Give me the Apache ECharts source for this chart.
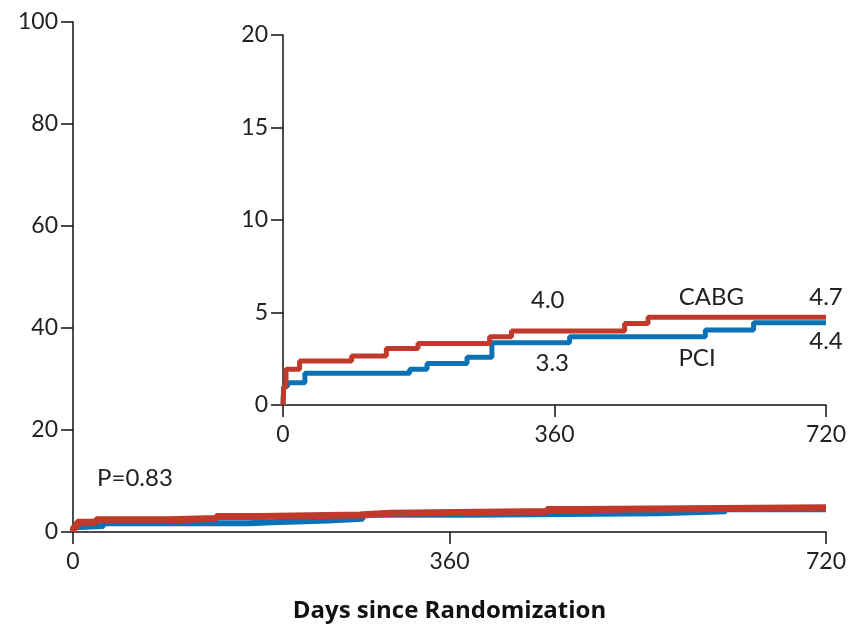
<!DOCTYPE html>
<html><head><meta charset="utf-8">
<script src="https://cdn.jsdelivr.net/npm/echarts@6/dist/echarts.min.js"></script>
<style>html,body{margin:0;padding:0;background:#fff}#c{width:861px;height:624px}</style>
</head><body><div id="c"></div>
<script>
// Data (days since randomization, cumulative %)
const cabgDays = [0, 1, 4, 22, 91, 137, 179, 274, 303, 453, 484, 720];
const cabgVals = [0, 1.0, 1.93, 2.38, 2.65, 3.06, 3.33, 3.69, 4.0, 4.41, 4.74, 4.74];
const pciDays  = [0, 1, 6, 29, 168, 191, 244, 277, 380, 560, 624, 720];
const pciVals  = [0, 1.0, 1.2, 1.71, 1.93, 2.25, 2.58, 3.37, 3.69, 4.05, 4.45, 4.45];
const mainYTicks = [0, 20, 40, 60, 80, 100];
const insetYTicks = [0, 5, 10, 15, 20];
const xTicks = [0, 360, 720];
const xTitle = 'Days since Randomization';
// annotations: [text, day, value, align, grid]
const notes = [
  ['P=0.83', 23, 10.6, 'left', 0],
  ['4.0', 351, 5.68, 'center', 1],
  ['3.3', 357, 2.27, 'center', 1],
  ['CABG', 568, 5.84, 'center', 1],
  ['PCI', 549, 2.54, 'center', 1],
  ['4.7', 720, 5.84, 'center', 1],
  ['4.4', 720, 3.46, 'center', 1]
];

const RED = '#C0392B', BLUE = '#0B72B5';
const FONT = 'Lato';
const FS = 23;
const pairs = (d, v) => d.map((x, i) => [x, v[i]]);

const chart = echarts.init(document.getElementById('c'));
const axisLine = {show: true, lineStyle: {color: '#111', width: 1.5}};
const xAxisCommon = {
  type: 'value', min: 0, max: 720, interval: 360,
  axisLine: axisLine,
  axisTick: {show: true, length: 12, inside: false, lineStyle: {color: '#111', width: 1.5}},
  splitLine: {show: false},
  axisLabel: {fontFamily: FONT, fontSize: FS, color: '#222', margin: 18,
    formatter: v => xTicks.includes(v) ? String(v) : ''}
};
const yAxisCommon = {
  type: 'value', min: 0,
  axisLine: axisLine,
  axisTick: {show: true, length: 12, lineStyle: {color: '#111', width: 1.5}},
  splitLine: {show: false},
  axisLabel: {fontFamily: FONT, fontSize: FS, color: '#222', margin: 15}
};
chart.setOption({
  animation: false,
  backgroundColor: '#fff',
  grid: [
    {left: 73, right: 35, top: 22, bottom: 92, containLabel: false, outerBoundsMode: 'none'},
    {left: 283, right: 35, top: 35, bottom: 219, containLabel: false, outerBoundsMode: 'none'}
  ],
  xAxis: [
    Object.assign({}, xAxisCommon, {gridIndex: 0, name: xTitle, nameLocation: 'middle', nameGap: 67,
      nameTextStyle: {fontFamily: 'Open Sans', fontSize: 24, fontWeight: 'bold', color: '#111'}}),
    Object.assign({}, xAxisCommon, {gridIndex: 1})
  ],
  yAxis: [
    Object.assign({}, yAxisCommon, {gridIndex: 0, max: mainYTicks[mainYTicks.length-1], interval: 20}),
    Object.assign({}, yAxisCommon, {gridIndex: 1, max: insetYTicks[insetYTicks.length-1], interval: 5})
  ],
  series: [
    {type: 'line', step: 'end', xAxisIndex: 0, yAxisIndex: 0, data: pairs(pciDays, pciVals),
      showSymbol: false, lineStyle: {color: BLUE, width: 6}, z: 2},
    {type: 'line', step: 'end', xAxisIndex: 0, yAxisIndex: 0, data: pairs(cabgDays, cabgVals),
      showSymbol: false, lineStyle: {color: RED, width: 7}, z: 3},
    {type: 'line', step: 'end', xAxisIndex: 1, yAxisIndex: 1, data: pairs(pciDays, pciVals),
      showSymbol: false, lineStyle: {color: BLUE, width: 5}, z: 2},
    {type: 'line', step: 'end', xAxisIndex: 1, yAxisIndex: 1, data: pairs(cabgDays, cabgVals),
      showSymbol: false, lineStyle: {color: RED, width: 5}, z: 3}
  ]
});
const g = notes.map(n => {
  const p = chart.convertToPixel({gridIndex: n[4]}, [n[1], n[2]]);
  return {type: 'text', x: p[0], y: p[1], z: 10,
    style: {text: n[0], fontFamily: FONT, fontSize: 24, fill: '#222', align: n[3], verticalAlign: 'middle'}};
});
chart.setOption({graphic: g});
</script></body></html>
